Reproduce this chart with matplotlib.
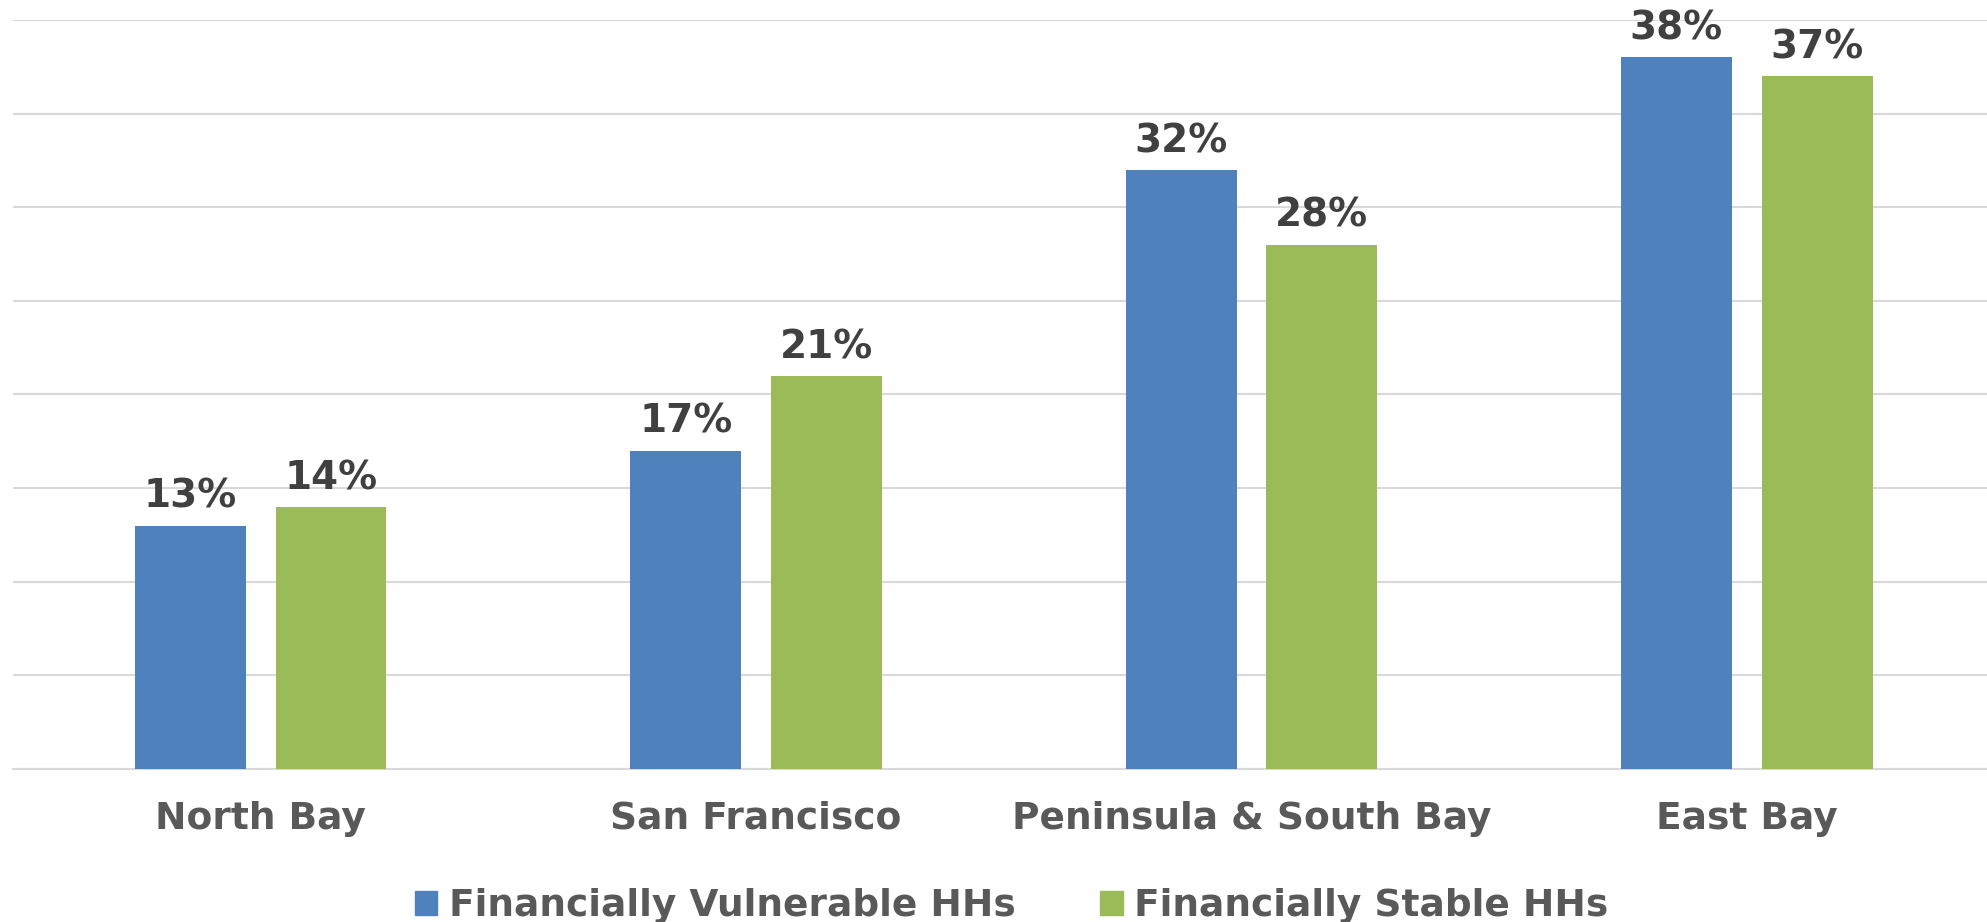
import matplotlib
matplotlib.use("Agg")
import matplotlib.pyplot as plt
import numpy as np
from matplotlib.patches import Rectangle

categories = ["North Bay", "San Francisco", "Peninsula & South Bay", "East Bay"]
vulnerable = [13, 17, 32, 38]
stable = [14, 21, 28, 37]
series_names = ["Financially Vulnerable HHs", "Financially Stable HHs"]
colors = ["#4F81BD", "#9BBB59"]

plt.rcParams['font.family'] = ['DejaVu Sans']

fig = plt.figure(figsize=(19.87, 9.22), dpi=100)
ax = fig.add_axes([13/1987, (922-769)/922, 1974/1987, (769-20)/922])

x = np.arange(len(categories))
w = 0.224
off = 0.142
b1 = ax.bar(x - off, vulnerable, w, color=colors[0], zorder=3)
b2 = ax.bar(x + off, stable, w, color=colors[1], zorder=3)

for bars, vals in ((b1, vulnerable), (b2, stable)):
    ax.bar_label(bars, labels=[f"{v}%" for v in vals], padding=7,
                 fontsize=28, fontweight='bold', color='#404040')

ax.set_xlim(-0.5, 3.485)
ax.set_ylim(0, 40)
ax.set_yticks(np.arange(0, 41, 5))
ax.yaxis.grid(True, color='#D9D9D9', linewidth=1.5, zorder=0)
ax.set_axisbelow(True)
ax.tick_params(axis='y', left=False, labelleft=False)
ax.set_xticks(x)
ax.set_xticklabels(categories, fontsize=27, fontweight='bold', color='#595959')
ax.tick_params(axis='x', length=0, pad=23)
for s in ['top', 'right', 'left']:
    ax.spines[s].set_visible(False)
ax.spines['bottom'].set_color('#D9D9D9')
ax.spines['bottom'].set_linewidth(1.5)

handles = [Rectangle((0, 0), 1, 1, color=c) for c in colors]
leg = fig.legend(handles, series_names, loc='center', bbox_to_anchor=(0.509, 0.017),
                 ncol=2, frameon=False, handlelength=0.61, handleheight=0.61,
                 handletextpad=0.3, columnspacing=2.25,
                 prop={'size': 27, 'weight': 'bold'})
for t in leg.get_texts():
    t.set_color('#595959')

fig.savefig("out.png", dpi=100)
